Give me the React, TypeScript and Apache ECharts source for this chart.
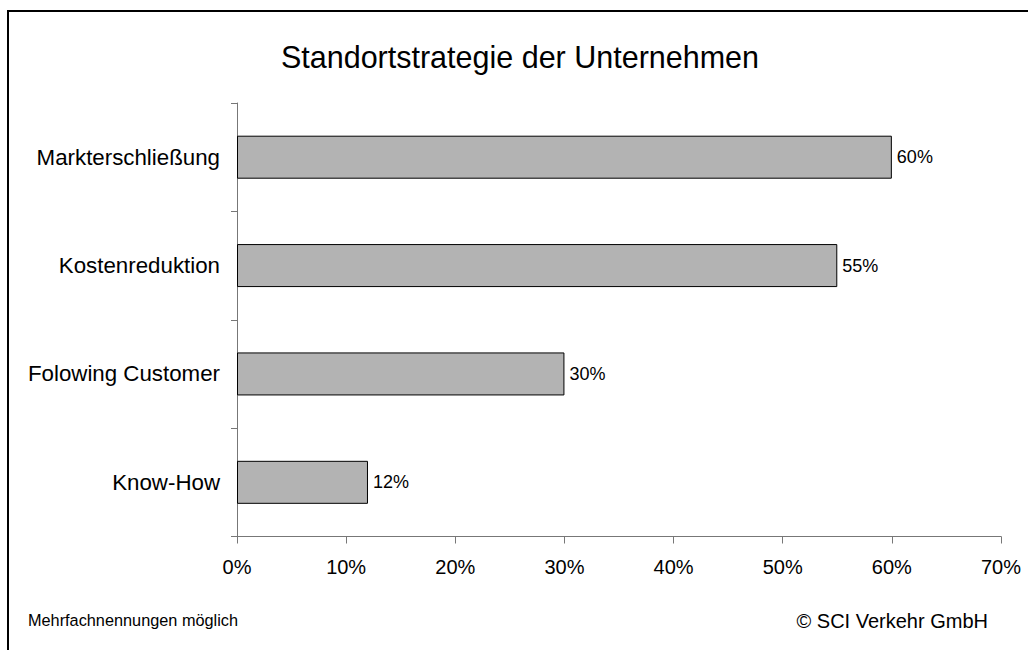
import React, { useEffect, useRef } from "react";
import * as echarts from "echarts";

const categories = ["Markterschließung", "Kostenreduktion", "Folowing Customer", "Know-How"];
const values = [60, 55, 30, 12];
const xTicks = [0, 10, 20, 30, 40, 50, 60, 70];
const titleText = "Standortstrategie der Unternehmen";
const noteText = "Mehrfachnennungen möglich";
const copyrightText = "© SCI Verkehr GmbH";

const FONT = "'Liberation Sans', Arial, sans-serif";

export default function App() {
  const ref = useRef<HTMLDivElement>(null);
  useEffect(() => {
    if (!ref.current) return;
    const chart = echarts.init(ref.current, null, { renderer: "svg" });
    chart.setOption({
      animation: false,
      backgroundColor: "#ffffff",
      textStyle: { fontFamily: FONT, color: "#000" },
      grid: { left: 237, right: 27, top: 103, bottom: 113.5, containLabel: false },
      xAxis: {
        type: "value",
        min: xTicks[0],
        max: xTicks[xTicks.length - 1],
        interval: 10,
        axisLine: { show: true, lineStyle: { color: "#777", width: 1 } },
        axisTick: { show: true, length: 7, lineStyle: { color: "#777" } },
        splitLine: { show: false },
        axisLabel: {
          formatter: (v: number) => v + "%",
          fontSize: 20,
          color: "#000",
          fontFamily: FONT,
          margin: 20,
        },
      },
      yAxis: {
        type: "category",
        data: categories,
        inverse: true,
        axisLine: { show: true, lineStyle: { color: "#777", width: 1 } },
        axisTick: { show: true, length: 6, alignWithLabel: false, lineStyle: { color: "#777" } },
        axisLabel: { fontSize: 22.3, color: "#000", fontFamily: FONT, margin: 17 },
        splitLine: { show: false },
      },
      series: [
        {
          type: "bar",
          data: values,
          barWidth: 43,
          itemStyle: { color: "#b3b3b3", borderColor: "#000", borderWidth: 1 },
          label: {
            show: true,
            position: "right",
            distance: 5,
            formatter: (p: any) => p.value + "%",
            fontSize: 18,
            color: "#000",
            fontFamily: FONT,
          },
        },
      ],
      graphic: [
        {
          type: "rect",
          shape: { x: 8, y: 11, width: 1040, height: 660 },
          style: { fill: "none", stroke: "#000", lineWidth: 2 },
          silent: true,
        },
        {
          type: "text",
          x: 520,
          y: 57,
          style: {
            text: titleText,
            fontSize: 30.5,
            fontFamily: FONT,
            fill: "#000",
            align: "center",
            verticalAlign: "middle",
          },
        },
        {
          type: "text",
          x: 28,
          y: 620,
          style: {
            text: noteText,
            fontSize: 16.3,
            fontFamily: FONT,
            fill: "#000",
            align: "left",
            verticalAlign: "middle",
          },
        },
        {
          type: "text",
          x: 988,
          y: 621,
          style: {
            text: copyrightText,
            fontSize: 20,
            fontFamily: FONT,
            fill: "#000",
            align: "right",
            verticalAlign: "middle",
          },
        },
      ],
    });
    return () => chart.dispose();
  }, []);
  return (
    <div
      ref={ref}
      style={{ position: "fixed", left: 0, top: 0, width: 1028, height: 650 }}
    />
  );
}
